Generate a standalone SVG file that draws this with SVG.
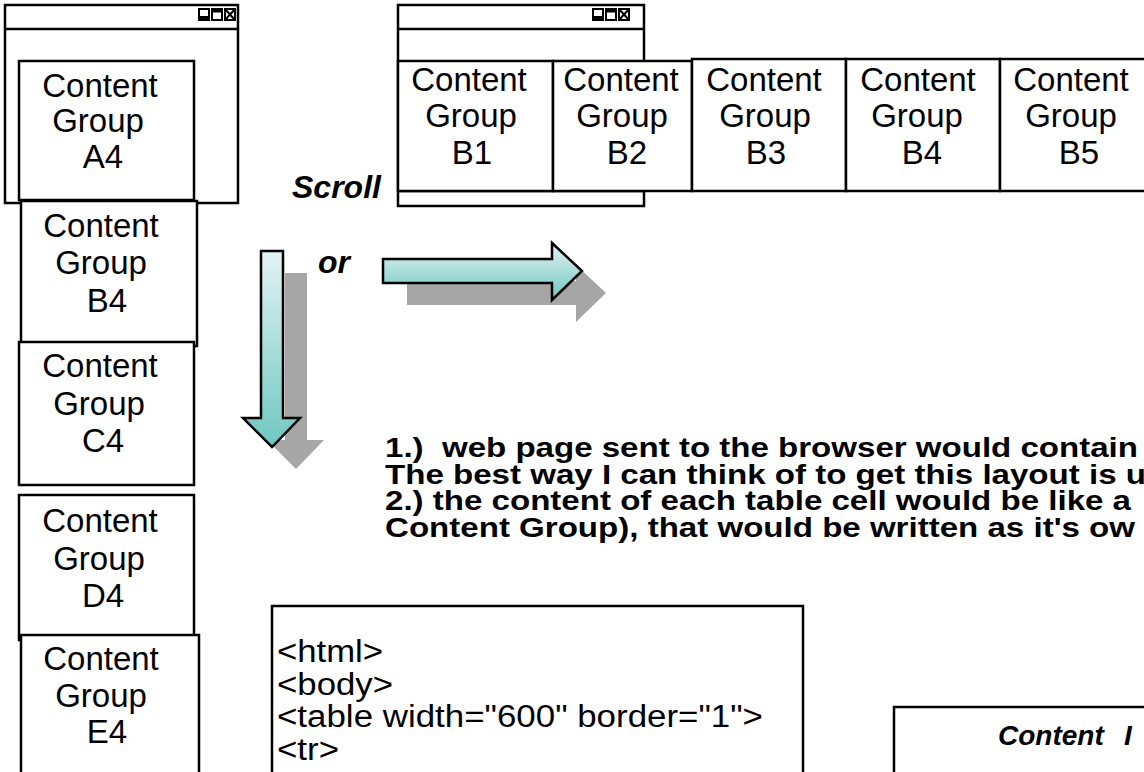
<svg xmlns="http://www.w3.org/2000/svg" xmlns:xlink="http://www.w3.org/1999/xlink" width="1144" height="772" viewBox="0 0 1144 772">
<style>
.box{fill:#fff;stroke:#000;stroke-width:2.5}
.win{fill:#fff;stroke:#000;stroke-width:2.5}
.ln{fill:none;stroke:#000;stroke-width:2.5}
.cg{font-family:"Liberation Sans",Arial,sans-serif;font-size:33px;fill:#000;text-anchor:middle}
.bi{font-family:"Liberation Sans",Arial,sans-serif;font-size:32px;font-weight:bold;font-style:italic;fill:#000}
.note{font-family:"Liberation Sans",Arial,sans-serif;font-size:27px;font-weight:bold;fill:#000}
.code{font-family:"Liberation Sans",Arial,sans-serif;font-size:31px;fill:#000}
.shadow{fill:#a6a6a6}
.arrow{fill:url(#teal);stroke:#000;stroke-width:2.5;stroke-linejoin:miter}
.ic{fill:#fff;stroke:#000;stroke-width:2}
.icb{fill:#000}
</style>
<defs>
<linearGradient id="teal" x1="0" y1="0" x2="0" y2="1">
<stop offset="0" stop-color="#e2f3f3"/>
<stop offset="1" stop-color="#6ec8c0"/>
</linearGradient>
<g id="icons">
<rect class="ic" x="1" y="1" width="10" height="11"/>
<rect class="icb" x="1" y="8" width="10" height="4"/>
<rect class="ic" x="14" y="1" width="10" height="11"/>
<rect class="icb" x="14" y="1" width="10" height="3.5"/>
<rect class="ic" x="27" y="1" width="10" height="11"/>
<path d="M27 1 L37 12 M37 1 L27 12" fill="none" stroke="#000" stroke-width="2"/>
</g>
</defs>
<rect width="1144" height="772" fill="#fff"/>

<g id="window-left">
<rect class="win" x="5" y="5" width="233" height="198"/>
<line class="ln" x1="5" y1="29" x2="238" y2="29"/>
<use xlink:href="#icons" x="198" y="8"/>
</g>

<g id="window-right">
<rect class="win" x="398" y="5" width="246" height="201"/>
<line class="ln" x1="398" y1="29" x2="644" y2="29"/>
<line class="ln" x1="398" y1="191" x2="644" y2="191"/>
<use xlink:href="#icons" x="592" y="8"/>
</g>

<g id="cg-a4">
<rect class="box" x="19" y="61" width="175" height="139"/>
<text class="cg" x="100" y="97">Content</text>
<text class="cg" x="98" y="132">Group</text>
<text class="cg" x="103" y="168">A4</text>
</g>
<g id="cg-b4-left">
<rect class="box" x="21" y="201" width="176" height="145"/>
<text class="cg" x="101" y="237">Content</text>
<text class="cg" x="101" y="274">Group</text>
<text class="cg" x="107" y="312">B4</text>
</g>
<g id="cg-c4">
<rect class="box" x="19" y="342" width="175" height="143"/>
<text class="cg" x="100" y="377">Content</text>
<text class="cg" x="99" y="415">Group</text>
<text class="cg" x="103" y="452">C4</text>
</g>
<g id="cg-d4">
<rect class="box" x="19" y="495" width="175" height="145"/>
<text class="cg" x="100" y="532">Content</text>
<text class="cg" x="99" y="570">Group</text>
<text class="cg" x="103" y="607">D4</text>
</g>
<g id="cg-e4">
<rect class="box" x="21" y="635" width="178" height="150"/>
<text class="cg" x="101" y="670">Content</text>
<text class="cg" x="101" y="707">Group</text>
<text class="cg" x="107" y="743">E4</text>
</g>

<g id="cg-b1">
<rect class="box" x="398" y="61" width="155" height="130"/>
<text class="cg" x="469" y="91">Content</text>
<text class="cg" x="471" y="127">Group</text>
<text class="cg" x="472" y="164">B1</text>
</g>
<g id="cg-b2">
<rect class="box" x="553" y="61" width="139" height="130"/>
<text class="cg" x="621" y="91">Content</text>
<text class="cg" x="622" y="127">Group</text>
<text class="cg" x="627" y="164">B2</text>
</g>
<g id="cg-b3">
<rect class="box" x="692" y="59" width="154" height="132"/>
<text class="cg" x="764" y="91">Content</text>
<text class="cg" x="765" y="127">Group</text>
<text class="cg" x="766" y="164">B3</text>
</g>
<g id="cg-b4">
<rect class="box" x="846" y="59" width="154" height="132"/>
<text class="cg" x="918" y="91">Content</text>
<text class="cg" x="917" y="127">Group</text>
<text class="cg" x="922" y="164">B4</text>
</g>
<g id="cg-b5">
<rect class="box" x="1000" y="59" width="160" height="132"/>
<text class="cg" x="1071" y="91">Content</text>
<text class="cg" x="1071" y="127">Group</text>
<text class="cg" x="1079" y="164">B5</text>
</g>

<g id="label-scroll">
<text class="bi" x="292" y="198">Scroll</text>
</g>
<g id="label-or">
<text class="bi" x="318" y="273">or</text>
</g>

<g id="connectors">
<path class="shadow" d="M285 273 H307 V440 H324 L296 469 L267 440 H285 Z"/>
<path class="arrow" d="M261 251 H283 V418 H300 L272 447 L243 418 H261 Z"/>
<path class="shadow" d="M407 281 H576 V265 L606 293 L576 322 V305 H407 Z"/>
<path class="arrow" d="M383 259 H552 V243 L582 271 L552 300 V283 H383 Z"/>
</g>

<g id="note">
<text class="note" x="385" y="457" textLength="753" lengthAdjust="spacingAndGlyphs" xml:space="preserve">1.)  web page sent to the browser would contain</text>
<text class="note" x="385" y="483.5" textLength="761" lengthAdjust="spacingAndGlyphs">The best way I can think of to get this layout is u</text>
<text class="note" x="385" y="510" textLength="746" lengthAdjust="spacingAndGlyphs">2.) the content of each table cell would be like a</text>
<text class="note" x="385" y="537" textLength="750" lengthAdjust="spacingAndGlyphs">Content Group), that would be written as it's ow</text>
</g>

<g id="code-box">
<rect class="box" x="272" y="606" width="531" height="180"/>
<text class="code" x="277" y="662" textLength="106" lengthAdjust="spacingAndGlyphs">&lt;html&gt;</text>
<text class="code" x="277" y="694.5" textLength="116" lengthAdjust="spacingAndGlyphs">&lt;body&gt;</text>
<text class="code" x="277" y="727" textLength="486" lengthAdjust="spacingAndGlyphs">&lt;table width="600" border="1"&gt;</text>
<text class="code" x="277" y="759.5" textLength="62" lengthAdjust="spacingAndGlyphs">&lt;tr&gt;</text>
</g>

<g id="content-box">
<rect class="box" x="894" y="707" width="270" height="80"/>
<text class="bi" x="998" y="745" style="font-size:28px">Content<tspan x="1124">I</tspan></text>
</g>
</svg>
